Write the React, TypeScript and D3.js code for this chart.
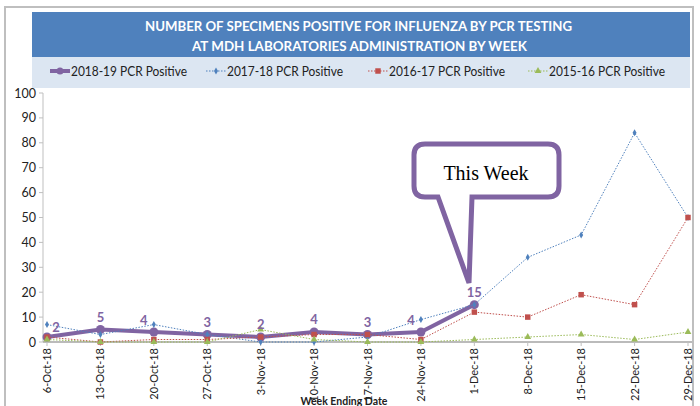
import React from "react";
import * as d3 from "d3";

const categories = ["6-Oct-18","13-Oct-18","20-Oct-18","27-Oct-18","3-Nov-18","10-Nov-18","17-Nov-18","24-Nov-18","1-Dec-18","8-Dec-18","15-Dec-18","22-Dec-18","29-Dec-18"];
const s1819 = [2,5,4,3,2,4,3,4,15];
const s1718 = [7,3,7,3,0,0,2,9,15,34,43,84,50];
const s1617 = [2,0,1,1,2,3,3,1,12,10,19,15,50];
const s1516 = [1,0,0,0,5,1,0,0,1,2,3,1,4];
const yTicks = [0,10,20,30,40,50,60,70,80,90,100];
const titleLines = ["NUMBER OF SPECIMENS POSITIVE FOR INFLUENZA BY PCR TESTING","AT MDH LABORATORIES ADMINISTRATION BY WEEK"];
const legendLabels = ["2018-19 PCR Positive","2017-18 PCR Positive","2016-17 PCR Positive","2015-16 PCR Positive"];

const PURPLE = "#8064A2";
const BLUE = "#4F81BD";
const RED = "#C0504D";
const GREEN = "#9BBB59";
const FONT = "Lato, 'Open Sans', sans-serif";

export default function App() {
  const x = d3.scalePoint<string>().domain(categories).range([47, 688]);
  const y = d3.scaleLinear().domain([0, 100]).range([342, 93]);
  const line = d3.line<number>().x((_, i) => x(categories[i]) as number).y((d) => y(d));

  const diamond = d3.symbol().type(d3.symbolDiamond).size(14)();
  const square = d3.symbol().type(d3.symbolSquare).size(30)();
  const tri = d3.symbol().type(d3.symbolTriangle).size(20)();

  const labelOffsets: [number, number][] = [[9, -5], [0, -8], [-10, -7], [0, -8], [0, -8], [0, -8], [0, -8], [-10, -7], [0, -8]];

  const legendX = [50, 206, 368, 528];
  const legendColors = [PURPLE, BLUE, RED, GREEN];
  const legendMarkers = [null, diamond, square, tri];

  return (
    <svg width={700} height={406} style={{ position: "absolute", left: 0, top: 0 }} fontFamily={FONT}>
      <rect x={0} y={0} width={700} height={406} fill="#fff" />
      <rect x={5} y={7} width={688} height={410} fill="none" stroke="#BFBFBF" strokeWidth={2} />
      {/* title */}
      <rect x={32} y={12} width={658} height={45} fill="#4F81BD" />
      <rect x={32} y={57} width={658} height={31} fill="#DCE6F2" />
      {titleLines.map((t, i) => (
        <text key={t} x={i === 0 ? 358.5 : 359.5} y={31 + i * 20} textAnchor="middle" fill="#fff" fontWeight="bold" fontSize={14}
          textLength={i === 0 ? 427 : 335} lengthAdjust="spacingAndGlyphs">{t}</text>
      ))}
      {/* legend */}
      {legendLabels.map((lab, i) => {
        const lx = legendX[i];
        const m = legendMarkers[i];
        return (
          <g key={lab}>
            {i === 0 ? (
              <g>
                <line x1={lx} x2={lx + 20} y1={71} y2={71} stroke={PURPLE} strokeWidth={4} />
                <circle cx={lx + 10} cy={71} r={3.5} fill={PURPLE} />
              </g>
            ) : (
              <g>
                <line x1={lx} x2={lx + 20} y1={71} y2={71} stroke={legendColors[i]} strokeWidth={1} strokeDasharray="1.5,1.5" />
                <path d={m as string} transform={`translate(${lx + 10},71)`} fill={legendColors[i]} />
              </g>
            )}
            <text x={lx + 21} y={75.5} fontSize={12.5} fill="#222" textLength={116} lengthAdjust="spacingAndGlyphs">{lab}</text>
          </g>
        );
      })}
      {/* y axis */}
      <line x1={43} x2={43} y1={y(100)} y2={y(0)} stroke="#BFBFBF" />
      {yTicks.map((t) => (
        <g key={t}>
          <line x1={39} x2={43} y1={y(t)} y2={y(t)} stroke="#BFBFBF" />
          <text x={36} y={y(t) + 4.5} textAnchor="end" fontSize={12.5} fill="#222">{t}</text>
        </g>
      ))}
      {/* x axis */}
      <line x1={43} x2={692} y1={y(0)} y2={y(0)} stroke="#A5A5A5" strokeWidth={1.5} />
      {categories.map((c) => {
        const cx = x(c) as number;
        return (
          <g key={c}>
            <line x1={cx} x2={cx} y1={y(0)} y2={y(0) + 4} stroke="#BFBFBF" />
            <text transform={`translate(${cx + 4},348) rotate(-90)`} textAnchor="end" fontSize={11} fill="#222">{c}</text>
          </g>
        );
      })}
      <text x={344} y={405} textAnchor="middle" fontSize={10.5} fontWeight="bold" fill="#222">Week Ending Date</text>

      {/* 2018-19 series */}
      <path d={line(s1819) as string} fill="none" stroke={PURPLE} strokeWidth={4} strokeLinejoin="round" />
      {s1819.map((v, i) => (
        <circle key={i} cx={x(categories[i]) as number} cy={y(v)} r={4.5} fill={PURPLE} />
      ))}
      {/* other series */}
      <path d={line(s1718) as string} fill="none" stroke={BLUE} strokeWidth={1} strokeDasharray="1.5,1.5" />
      {s1718.map((v, i) => (
        <path key={i} d={diamond as string} transform={`translate(${x(categories[i])},${y(v)})`} fill={BLUE} />
      ))}
      <path d={line(s1617) as string} fill="none" stroke={RED} strokeWidth={1} strokeDasharray="1.5,1.5" />
      {s1617.map((v, i) => (
        <path key={i} d={square as string} transform={`translate(${x(categories[i])},${y(v)})`} fill={RED} />
      ))}
      <path d={line(s1516) as string} fill="none" stroke={GREEN} strokeWidth={1} strokeDasharray="1.5,1.5" />
      {s1516.map((v, i) => (
        <path key={i} d={tri as string} transform={`translate(${x(categories[i])},${y(v)})`} fill={GREEN} />
      ))}
      {/* data labels */}
      {s1819.map((v, i) => (
        <text key={i} x={(x(categories[i]) as number) + labelOffsets[i][0]} y={y(v) + labelOffsets[i][1]}
          textAnchor="middle" fontSize={13} fontWeight="bold" fill={PURPLE}>{v}</text>
      ))}
      {/* callout */}
      <path d="M425,144 H548 Q559,144 559,155 V186 Q559,197 548,197 H472 L469,283 L438,197 H425 Q414,197 414,186 V155 Q414,144 425,144 Z"
        fill="#fff" stroke={PURPLE} strokeWidth={5} strokeLinejoin="miter" />
      <text x={486} y={180} textAnchor="middle" fontFamily="'Liberation Serif', 'DejaVu Serif', serif" fontSize={20} fill="#000">This Week</text>
    </svg>
  );
}
